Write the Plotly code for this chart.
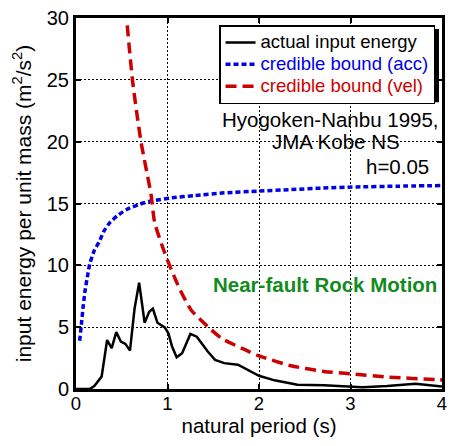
import plotly.graph_objects as go

# actual input energy
T_act = [0, 0.15, 0.2, 0.28, 0.34, 0.39, 0.44, 0.49, 0.54, 0.59, 0.64, 0.69, 0.75, 0.80, 0.84,
         0.89, 0.97, 1.01, 1.05, 1.10, 1.16, 1.25, 1.32, 1.44, 1.52, 1.62, 1.77, 1.88, 2.0,
         2.17, 2.42, 2.71, 3.01, 3.13, 3.4, 3.71, 4.0]
E_act = [0, 0, 0.24, 1.0, 3.96, 3.3, 4.6, 3.83, 3.65, 3.1, 6.5, 8.6, 5.36, 6.24, 6.5,
         5.36, 4.98, 4.5, 3.43, 2.57, 2.9, 4.45, 4.23, 3.03, 2.36, 2.09, 1.96, 1.55, 1.07,
         0.7, 0.35, 0.3, 0.21, 0.15, 0.25, 0.42, 0.2]

# credible bound (acc)
T_acc = [0.04, 0.06, 0.08, 0.1, 0.13, 0.15, 0.2, 0.26, 0.3, 0.37, 0.45, 0.55, 0.7, 0.82,
         1.05, 1.3, 1.62, 2.0, 2.35, 2.7, 3.07, 3.5, 4.0]
E_acc = [3.9, 5.3, 6.8, 8.0, 9.3, 10.1, 11.2, 12.0, 12.7, 13.45, 14.0, 14.5, 14.95, 15.2,
         15.46, 15.65, 15.86, 16.0, 16.13, 16.25, 16.34, 16.4, 16.45]

# credible bound (vel)
T_vel = [0.56, 0.62, 0.71, 0.82, 0.86, 0.96, 1.03, 1.14, 1.26, 1.44, 1.59, 1.81, 2.0,
         2.35, 2.71, 3.01, 3.42, 3.96, 4.0]
E_vel = [29.4, 24.8, 20.0, 15.73, 13.45, 11.2, 9.86, 7.98, 6.37, 5.04, 4.1, 3.3, 2.68,
         1.88, 1.42, 1.23, 0.96, 0.75, 0.73]

x_ticks = [0, 1, 2, 3, 4]
y_ticks = [0, 5, 10, 15, 20, 25, 30]

names = ["actual input energy", "credible bound (acc)", "credible bound (vel)"]

FONT = "Liberation Sans, Arial, Helvetica, sans-serif"
BLUE = "#0000e6"
RED = "#cc0000"
GREEN = "#128a1e"
FA = 20.5


def leg_name(text, color="black"):
    return f'<span style="font-size:18.5px;color:{color}">{text}</span>'


fig = go.Figure()
fig.add_trace(go.Scatter(x=T_act, y=E_act, mode="lines",
                         line=dict(color="black", width=2.5),
                         name=leg_name(names[0])))
fig.add_trace(go.Scatter(x=T_acc, y=E_acc, mode="lines",
                         line=dict(color=BLUE, width=3.5, dash="5px,3px", shape="spline", smoothing=0.6),
                         name=leg_name(names[1], BLUE)))
fig.add_trace(go.Scatter(x=T_vel, y=E_vel, mode="lines",
                         line=dict(color=RED, width=3.5, dash="11px,6px", shape="spline", smoothing=0.6),
                         name=leg_name(names[2], RED)))

axis_common = dict(
    showline=True, linewidth=3, linecolor="black", mirror="ticks",
    ticks="inside", ticklen=5, tickwidth=1.5, tickcolor="black",
    showgrid=True, gridcolor="black", gridwidth=1, griddash="2px,2px",
    zeroline=False,
)

# legend placement (paper coords) and its drop shadow
LEG_X1, LEG_Y1 = 0.981, 0.981
LEG_W, LEG_H = 221 / 371, 73.6 / 373
SH_X, SH_Y = 4 / 371, 4 / 373

fig.update_layout(
    width=454, height=446,
    margin=dict(l=76, r=7, t=16, b=57),
    paper_bgcolor="white", plot_bgcolor="white",
    font=dict(family=FONT, size=20, color="black"),
    showlegend=True,
    legend=dict(x=LEG_X1, y=LEG_Y1, xanchor="right", yanchor="top",
                bgcolor="white", bordercolor="black", borderwidth=1.5,
                font=dict(size=14.5, family=FONT, color="black"),
                tracegroupgap=0, itemwidth=30),
    shapes=[dict(type="rect", xref="paper", yref="paper", layer="above",
                 x0=LEG_X1 - LEG_W + SH_X, x1=LEG_X1 + SH_X,
                 y0=LEG_Y1 - LEG_H - SH_Y, y1=LEG_Y1 - SH_Y,
                 fillcolor="black", line=dict(width=0))],
    xaxis=dict(range=[0, 4], tickvals=x_ticks, ticklabelstandoff=-4,
               tickfont=dict(size=18.5, color="black", family=FONT),
               title=dict(text="natural period (s)", font=dict(size=20.5), standoff=5),
               **axis_common),
    yaxis=dict(range=[0, 30], tickvals=y_ticks,
               tickfont=dict(size=20, color="black", family=FONT),
               title=dict(text="input energy per unit mass (m<sup>2</sup>/s<sup>2</sup>)",
                          font=dict(size=21), standoff=10),
               **axis_common),
    annotations=[
        dict(x=0.997, y=21.8, xref="paper", yref="y", text="Hyogoken-Nanbu 1995,",
             showarrow=False, xanchor="right", yanchor="middle", font=dict(size=FA)),
        dict(x=2.84, y=20.0, xref="x", yref="y", text="JMA Kobe NS",
             showarrow=False, xanchor="center", yanchor="middle", font=dict(size=FA)),
        dict(x=3.88, y=18.0, xref="x", yref="y", text="h=0.05",
             showarrow=False, xanchor="right", yanchor="middle", font=dict(size=FA)),
        dict(x=1.47, y=8.46, xref="x", yref="y", text="<b>Near-fault Rock Motion</b>",
             showarrow=False, xanchor="left", yanchor="middle",
             font=dict(size=FA, color=GREEN)),
    ],
)

fig.write_html("out.html", config={"displayModeBar": False})
